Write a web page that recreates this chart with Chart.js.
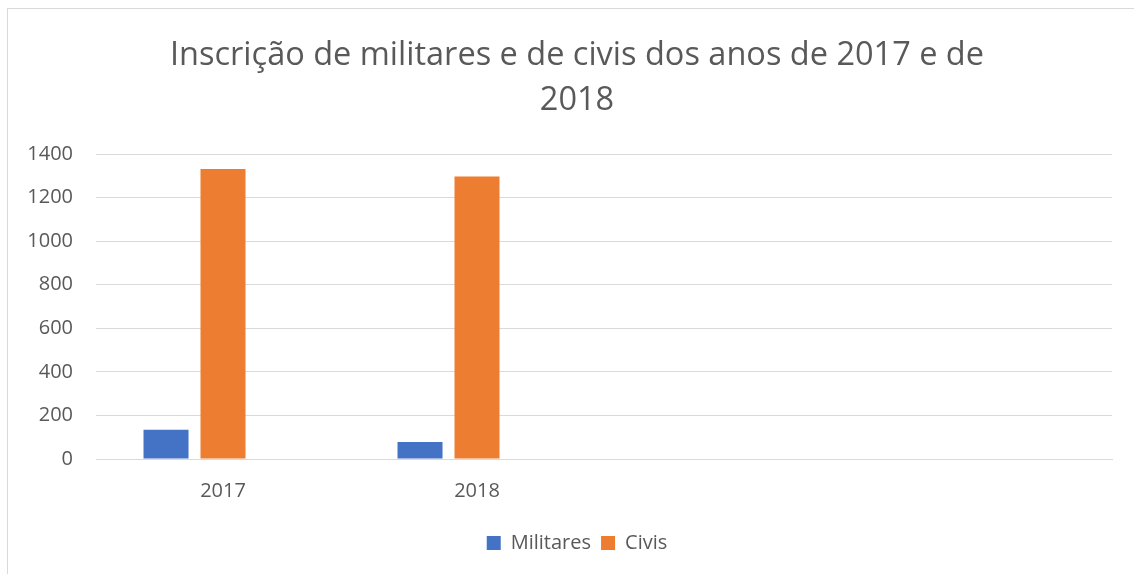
<!DOCTYPE html>
<html>
<head>
<meta charset="utf-8">
<script src="https://cdn.jsdelivr.net/npm/chart.js@4"></script>
<style>
  html, body { margin: 0; padding: 0; background: #fff; overflow: hidden; }
  .frame {
    position: absolute; left: 7px; top: 8px;
    width: 1140px; height: 580px;
    border: 1px solid #d9d9d9; box-sizing: border-box;
  }
  canvas { display: block; }
</style>
</head>
<body>
<div class="frame"><canvas id="chart" width="1138" height="578"></canvas></div>
<script>
const years = ['2017', '2018', '', ''];
const militares = [134, 78];
const civis = [1331, 1297];
const yTicks = [0, 200, 400, 600, 800, 1000, 1200, 1400];

const grey = '#595959';
const font = 'Open Sans';

const ctx = document.getElementById('chart').getContext('2d');
new Chart(ctx, {
  type: 'bar',
  data: {
    labels: years,
    datasets: [
      { label: 'Militares', data: militares, backgroundColor: '#4472C4' },
      { label: 'Civis', data: civis, backgroundColor: '#ED7D31' },
      // third, empty series keeps the group width
      { label: '', data: [], backgroundColor: '#A5A5A5' }
    ]
  },
  options: {
    responsive: false,
    animation: false,
    categoryPercentage: 0.673,
    barPercentage: 0.79,
    layout: { padding: { top: 0, right: 0, bottom: 24, left: 0 } },
    plugins: {
      title: {
        display: true,
        text: ['Inscrição de militares e de civis dos anos de 2017 e de', '2018'],
        color: grey,
        font: { family: font, size: 32.5, weight: 'normal', lineHeight: 1.385 },
        padding: { top: 24, bottom: 31 }
      },
      legend: {
        position: 'bottom',
        labels: {
          color: grey,
          font: { family: font, size: 20 },
          boxWidth: 14,
          boxHeight: 14,
          padding: 10,
          filter: item => item.text !== ''
        }
      },
      tooltip: { enabled: false }
    },
    scales: {
      x: {
        grid: { display: false },
        border: { color: '#d9d9d9', width: 1 },
        ticks: { color: grey, font: { family: font, size: 20 }, padding: 12, maxRotation: 0 },
        afterFit: scale => { scale.height = 64; }
      },
      y: {
        min: 0,
        max: 1400,
        afterBuildTicks: axis => { axis.ticks = yTicks.map(v => ({ value: v })); },
        grid: { color: '#d9d9d9', lineWidth: 1, drawTicks: false },
        border: { display: false },
        ticks: { color: grey, font: { family: font, size: 20 }, padding: 23, callback: v => String(v) },
        afterFit: scale => { scale.width = 88; }
      },
      // blank margin on the right of the plot
      yRight: {
        position: 'right',
        grid: { display: false, drawTicks: false },
        border: { display: false },
        ticks: { display: false },
        afterFit: scale => { scale.width = 34; }
      }
    }
  }
});
</script>
</body>
</html>
